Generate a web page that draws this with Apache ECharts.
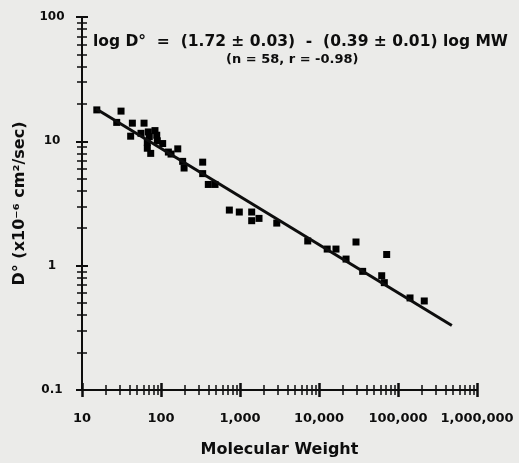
<!DOCTYPE html>
<html>
<head>
<meta charset="utf-8">
<script src="https://cdn.jsdelivr.net/npm/echarts@6/dist/echarts.min.js"></script>
<style>
html,body{margin:0;padding:0;background:#ebebe9;}
#c{width:519px;height:463px;}
</style>
</head>
<body>
<div id="c"></div>
<script>
// Molecular weight (x) and diffusion coefficient D° (x10^-6 cm2/sec) (y)
const molWeight = [15.4, 31.2, 27.5, 43.4, 61.0, 41.3, 55.8, 69.1, 83.9, 71.1,
  88.3, 89.8, 67.1, 67.1, 74.1, 105, 124, 134, 163, 188,
  196, 337, 337, 397, 483, 733, 980, 1406, 1406, 1740,
  2920, 7200, 12700, 16400, 29400, 22000, 35700, 71900, 62200, 67100,
  142000, 215000];
const diffCoef = [17.9, 17.5, 14.2, 14.0, 14.0, 11.0, 11.6, 11.9, 12.2, 10.9,
  11.2, 10.1, 9.8, 8.8, 8.0, 9.6, 8.2, 7.9, 8.7, 6.9,
  6.1, 6.8, 5.5, 4.5, 4.5, 2.8, 2.7, 2.7, 2.3, 2.4,
  2.2, 1.58, 1.36, 1.36, 1.55, 1.13, 0.90, 1.23, 0.83, 0.73,
  0.55, 0.52];
// Regression line endpoints
const lineMW = [15, 480000];
const lineD = [18.3, 0.33];
// Tick labels
const xTickValues = [10, 100, 1000, 10000, 100000, 1000000];
const xTickLabels = ['10', '100', '1,000', '10,000', '100,000', '1,000,000'];
const yTickValues = [0.1, 1, 10, 100];
const yTickLabels = ['0.1', '1', '10', '100'];
const eqLine1 = 'log D°  =  (1.72 ± 0.03)  -  (0.39 ± 0.01) log MW';
const eqLine2 = '(n = 58, r = -0.98)';

const minorMult = [2, 3, 4, 5, 6, 7, 8, 9];
function minors(decades) {
  const out = [];
  decades.slice(0, -1).forEach(d => minorMult.forEach(m => out.push(+(d * m).toPrecision(3))));
  return out;
}
const xMinor = minors(xTickValues);
const yMinor = minors(yTickValues);

const FONT = 'DejaVu Sans';
const ink = '#0d0d0d';

function xAx(show, inside, vals, len, w) {
  return {
    type: 'log', logBase: 10, min: 10, max: 1000000, position: 'bottom',
    axisLine: { show: true, lineStyle: { color: ink, width: 2 } },
    axisTick: { show: true, inside: inside, length: len, customValues: vals, lineStyle: { color: ink, width: w } },
    axisLabel: show ? {
      customValues: xTickValues, margin: 22, color: ink, fontFamily: FONT, fontWeight: 'bold', fontSize: 13,
      formatter: v => xTickLabels[xTickValues.indexOf(v)] ?? ''
    } : { show: false },
    splitLine: { show: false },
    name: show ? 'Molecular Weight' : '', nameLocation: 'middle', nameGap: 52,
    nameTextStyle: { color: ink, fontFamily: FONT, fontWeight: 'bold', fontSize: 16 }
  };
}
function yAx(show, inside, vals, len, w) {
  return {
    type: 'log', logBase: 10, min: 0.1, max: 100, position: 'left',
    axisLine: { show: true, lineStyle: { color: ink, width: 2 } },
    axisTick: { show: true, inside: inside, length: len, customValues: vals, lineStyle: { color: ink, width: w } },
    axisLabel: show ? {
      customValues: yTickValues, margin: 30, align: 'center', color: ink, fontFamily: FONT, fontWeight: 'bold', fontSize: 12,
      formatter: v => yTickLabels[yTickValues.indexOf(v)] ?? ''
    } : { show: false },
    splitLine: { show: false },
    name: show ? 'D° (x10⁻⁶ cm²/sec)' : '', nameLocation: 'middle', nameGap: 54,
    nameTextStyle: { color: ink, fontFamily: FONT, fontWeight: 'bold', fontSize: 16 }
  };
}

const chart = echarts.init(document.getElementById('c'));
chart.setOption({
  backgroundColor: '#ebebe9',
  animation: false,
  title: [
    { text: eqLine1, left: 93, top: 34, padding: 0, textStyle: { color: ink, fontFamily: FONT, fontWeight: 'bold', fontSize: 15.5 } },
    { text: eqLine2, left: 226, top: 53, padding: 0, textStyle: { color: ink, fontFamily: FONT, fontWeight: 'bold', fontSize: 13 } }
  ],
  grid: { left: 82, right: 42, top: 17, bottom: 73, containLabel: false },
  xAxis: [
    xAx(true, false, xMinor, 5, 1.5),
    xAx(false, true, xMinor, 5, 1.5),
    xAx(false, false, xTickValues, 7, 2.5),
    xAx(false, true, xTickValues, 7, 2.5)
  ],
  yAxis: [
    yAx(true, false, yMinor, 5, 1.5),
    yAx(false, true, yMinor, 5, 1.5),
    yAx(false, false, yTickValues, 6, 2),
    yAx(false, true, yTickValues, 6, 2)
  ],
  series: [
    {
      type: 'line', xAxisIndex: 0, yAxisIndex: 0,
      data: lineMW.map((x, i) => [x, lineD[i]]),
      showSymbol: false, symbol: 'none',
      lineStyle: { color: ink, width: 3 }
    },
    {
      type: 'scatter', xAxisIndex: 0, yAxisIndex: 0,
      data: molWeight.map((x, i) => [x, diffCoef[i]]),
      symbol: 'rect', symbolSize: 7,
      itemStyle: { color: '#000', opacity: 1 }
    }
  ]
});
</script>
</body>
</html>
